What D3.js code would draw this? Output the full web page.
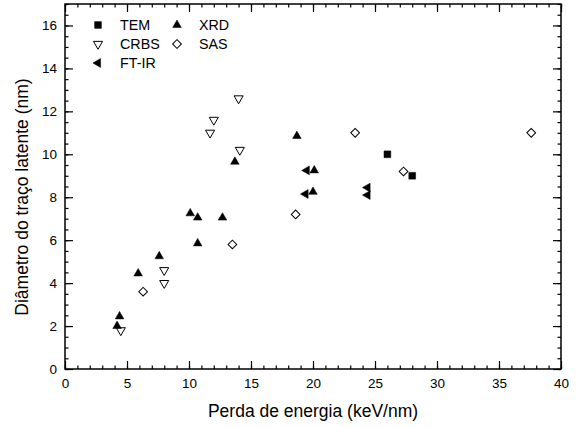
<!DOCTYPE html>
<html>
<head>
<meta charset="utf-8">
<script src="https://cdn.jsdelivr.net/npm/d3@7"></script>
<style>
  body { margin: 0; background: #fff; }
  svg { display: block; font-family: "Liberation Sans", Arial, Helvetica, sans-serif; }
</style>
</head>
<body>
<div id="chart"></div>
<script>
// data
const temX = [26.0, 28.0];
const temY = [10.0, 9.0];
const crbsX = [4.5, 8.0, 8.0, 11.7, 12.0, 14.0, 14.1];
const crbsY = [1.8, 4.6, 4.0, 11.0, 11.6, 12.6, 10.2];
const ftirX = [19.5, 19.4, 24.4, 24.4];
const ftirY = [9.25, 8.15, 8.45, 8.1];
const xrdX = [4.2, 4.4, 5.9, 7.6, 10.1, 10.7, 10.7, 12.7, 13.7, 18.7, 20.1, 20.0];
const xrdY = [2.0, 2.45, 4.45, 5.25, 7.25, 7.05, 5.85, 7.05, 9.65, 10.85, 9.25, 8.25];
const sasX = [6.3, 13.5, 18.6, 23.4, 27.3, 37.6];
const sasY = [3.6, 5.8, 7.2, 11.0, 9.2, 11.0];

const xTicks = [0, 5, 10, 15, 20, 25, 30, 35, 40];
const yTicks = [0, 2, 4, 6, 8, 10, 12, 14, 16];

const width = 579, height = 427;
const margin = { top: 4, right: 18, bottom: 58, left: 65 };
const w = width - margin.left - margin.right;
const h = height - margin.top - margin.bottom;

const svg = d3.select("#chart").append("svg")
  .attr("width", width)
  .attr("height", height);

const g = svg.append("g")
  .attr("transform", `translate(${margin.left},${margin.top})`);

const x = d3.scaleLinear().domain([0, 40]).range([0, w]);
const y = d3.scaleLinear().domain([0, 17]).range([h, 0]);

// ticks pointing inward on all four sides
const xMinor = d3.range(0, 41, 1);
const yMinor = d3.range(0, 17.01, 0.5);

function tickAxis(axis, scale, vals, size, translate) {
  const a = g.append("g")
    .attr("transform", translate)
    .call(axis(scale).tickValues(vals).tickSize(size).tickFormat(""));
  a.select(".domain").remove();
  a.selectAll("line").attr("stroke", "#000").attr("stroke-width", 1.2);
  return a;
}

tickAxis(d3.axisBottom, x, xMinor, -3.5, `translate(0,${h})`);
tickAxis(d3.axisBottom, x, xTicks, -8, `translate(0,${h})`);
tickAxis(d3.axisTop, x, xMinor, -3.5, "translate(0,0)");
tickAxis(d3.axisTop, x, xTicks, -8, "translate(0,0)");
tickAxis(d3.axisLeft, y, yMinor, -3.5, "translate(0,0)");
tickAxis(d3.axisLeft, y, yTicks, -8, "translate(0,0)");
tickAxis(d3.axisRight, y, yMinor, -3.5, `translate(${w},0)`);
tickAxis(d3.axisRight, y, yTicks, -8, `translate(${w},0)`);

// tick labels
const xLab = g.append("g")
  .attr("transform", `translate(0,${h})`)
  .call(d3.axisBottom(x).tickValues(xTicks).tickSize(0).tickPadding(9));
xLab.select(".domain").remove();
xLab.selectAll("text")
  .attr("font-size", "13.5px")
  .attr("font-family", "Liberation Sans, Arial, sans-serif")
  .attr("fill", "#000");

const yLab = g.append("g")
  .call(d3.axisLeft(y).tickValues(yTicks).tickSize(0).tickPadding(8));
yLab.select(".domain").remove();
yLab.selectAll("text")
  .attr("font-size", "13.5px")
  .attr("font-family", "Liberation Sans, Arial, sans-serif")
  .attr("fill", "#000");

// frame
g.append("rect")
  .attr("width", w)
  .attr("height", h)
  .attr("fill", "none")
  .attr("stroke", "#000")
  .attr("stroke-width", 1.5);

// axis titles
svg.append("text")
  .attr("x", margin.left + w / 2)
  .attr("y", 417)
  .attr("text-anchor", "middle")
  .attr("font-size", "17.5px")
  .text("Perda de energia (keV/nm)");

svg.append("text")
  .attr("transform", "translate(28,197) rotate(-90)")
  .attr("text-anchor", "middle")
  .attr("font-size", "17.5px")
  .text("Diâmetro do traço latente (nm)");

// marker styles
const styles = {
  TEM: { type: d3.symbolSquare, size: 46, rot: 0, fill: "#000" },
  CRBS: { type: d3.symbolTriangle, size: 36, rot: 180, fill: "#fff" },
  FTIR: { type: d3.symbolTriangle, size: 34, rot: -90, fill: "#000" },
  XRD: { type: d3.symbolTriangle, size: 32, rot: 0, fill: "#000" },
  SAS: { type: d3.symbolSquare, size: 38, rot: 45, fill: "#fff" }
};

function drawSeries(xs, ys, key) {
  const s = styles[key];
  const pts = xs.map((v, i) => ({ x: v, y: ys[i] }));
  g.selectAll(".pt-" + key)
    .data(pts)
    .enter()
    .append("path")
    .attr("class", "pt-" + key)
    .attr("d", d3.symbol().type(s.type).size(s.size))
    .attr("transform", (d) => `translate(${x(d.x)},${y(d.y)}) rotate(${s.rot})`)
    .attr("fill", s.fill)
    .attr("stroke", "#000")
    .attr("stroke-width", s.fill === "#fff" ? 1 : 0.5);
}

drawSeries(sasX, sasY, "SAS");
drawSeries(crbsX, crbsY, "CRBS");
drawSeries(temX, temY, "TEM");
drawSeries(ftirX, ftirY, "FTIR");
drawSeries(xrdX, xrdY, "XRD");

// legend
const legend = [
  { key: "TEM", label: "TEM", col: 0, row: 0 },
  { key: "XRD", label: "XRD", col: 1, row: 0 },
  { key: "CRBS", label: "CRBS", col: 0, row: 1 },
  { key: "SAS", label: "SAS", col: 1, row: 1 },
  { key: "FTIR", label: "FT-IR", col: 0, row: 2 }
];

const lg = svg.append("g");
legend.forEach((d) => {
  const s = styles[d.key];
  const lx = 98 + d.col * 79;
  const ly = 25 + d.row * 19;
  lg.append("path")
    .attr("d", d3.symbol().type(s.type).size(s.size))
    .attr("transform", `translate(${lx},${ly}) rotate(${s.rot})`)
    .attr("fill", s.fill)
    .attr("stroke", "#000")
    .attr("stroke-width", s.fill === "#fff" ? 1 : 0.5);
  lg.append("text")
    .attr("x", lx + 22)
    .attr("y", ly + 5)
    .attr("font-size", "14.3px")
    .text(d.label);
});
</script>
</body>
</html>
